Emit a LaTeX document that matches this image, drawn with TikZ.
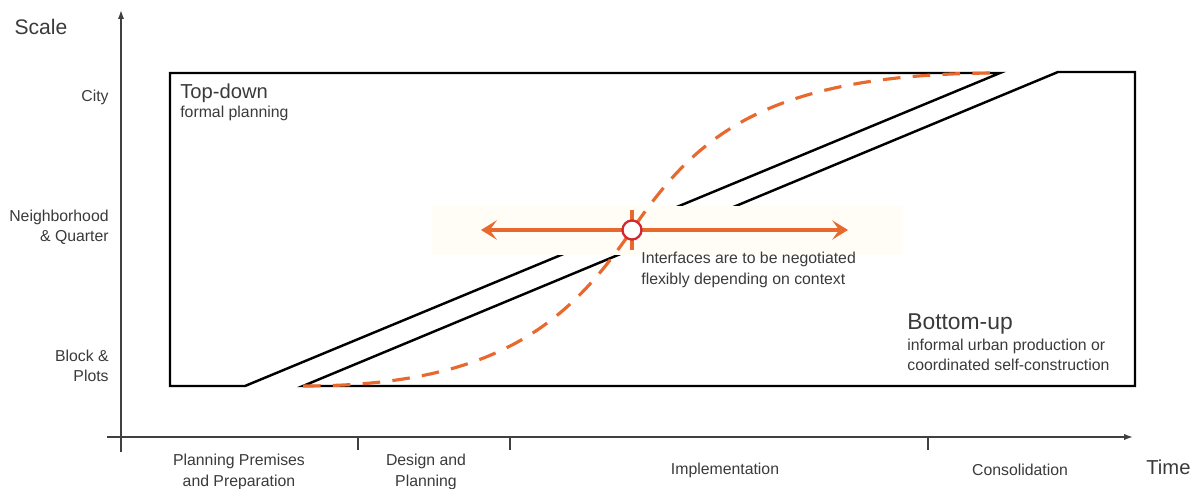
\documentclass[tikz,border=0pt]{standalone}
\usepackage{fontspec}
\setmainfont{Liberation Sans}
\usetikzlibrary{arrows.meta,positioning}
\definecolor{ora}{HTML}{E8692D}
\definecolor{rd}{HTML}{D52630}
\definecolor{band}{HTML}{FFFDF6}
\definecolor{txt}{HTML}{3A3A3A}

\begin{document}
\begin{tikzpicture}[x=0.02cm,y=-0.02cm,
	lab/.style={text=txt,font=\fontsize{9}{11.5}\selectfont,inner sep=0pt},
	big/.style={text=txt,font=\fontsize{11.5}{13}\selectfont,inner sep=0pt},
	axis/.style={draw=black!75,line width=0.8pt},
	frame/.style={line width=1.4pt},
	orng/.style={draw=ora,line width=1.8pt}]
			\useasboundingbox (0,0) rectangle (1198,489);
			\draw[axis,-{Latex[length=5pt,width=3.5pt]}] (121,452)--(121,10);
			\draw[axis,-{Latex[length=5pt,width=3.5pt]}] (107,437)--(1133,437);
			\foreach \t in {358,510,928} \draw[axis] (\t,437)--(\t,450);
			\path
			(41,27) node[big,font=\fontsize{12}{14}\selectfont] (scale) {Scale}
			(109,97) node[lab,anchor=east] (city) {City}
			(109,227) node[lab,anchor=east,align=right] (nbh) {Neighborhood\\\& Quarter}
			(109,366) node[lab,anchor=east,align=right] (blk) {Block \&\\Plots}
			(239,472) node[lab,align=center] (prep) {Planning Premises\\and Preparation}
			(426,472) node[lab,align=center] (design) {Design and\\Planning}
			(725,470) node[lab] (impl) {Implementation}
			(1020,470) node[lab] (cons) {Consolidation}
			(1146,467) node[big,anchor=west] (time) {Time}
			;
			% top-down and bottom-up fields
			\coordinate (bl) at (303,386);
			\coordinate (tr) at (1000,73);
			\coordinate (mid) at (632,230);
			\draw[frame] (245,386)--(170,386)--(170,73)--(tr)--cycle;
			\draw[frame] (bl)--(1135,386)--(1135,72)--(1058,72)--cycle;
			\fill[band] (432,206) rectangle (903,255);
			\draw[orng,dash pattern=on 10pt off 7pt] (bl) .. controls (500,386) and (570,320) .. (mid) .. controls (694,140) and (760,73) .. (tr);
			\draw[orng,line width=2pt,{Stealth[length=9pt,width=11pt,inset=4pt]}-{Stealth[length=9pt,width=11pt,inset=4pt]}] (481,230)--(848,230);
			\draw[orng] (632,210)--(632,250);
			\node[circle,draw=rd,fill=white,line width=1.3pt,minimum size=0.38cm,inner sep=0pt] (hub) at (mid) {};
			\path
			(180,93) node[big,anchor=west] (td) {Top-down}
			(180,113) node[lab,anchor=west] (tdsub) {formal planning}
			(907,324) node[big,anchor=west,font=\fontsize{13}{15}\selectfont] (bu) {Bottom-up}
			(907,355) node[lab,anchor=west,align=left] (busub) {informal urban production or\\coordinated self-construction}
			(641,270) node[lab,anchor=west,align=left] (note) {Interfaces are to be negotiated\\flexibly depending on context}
			;
\end{tikzpicture}
\end{document}
